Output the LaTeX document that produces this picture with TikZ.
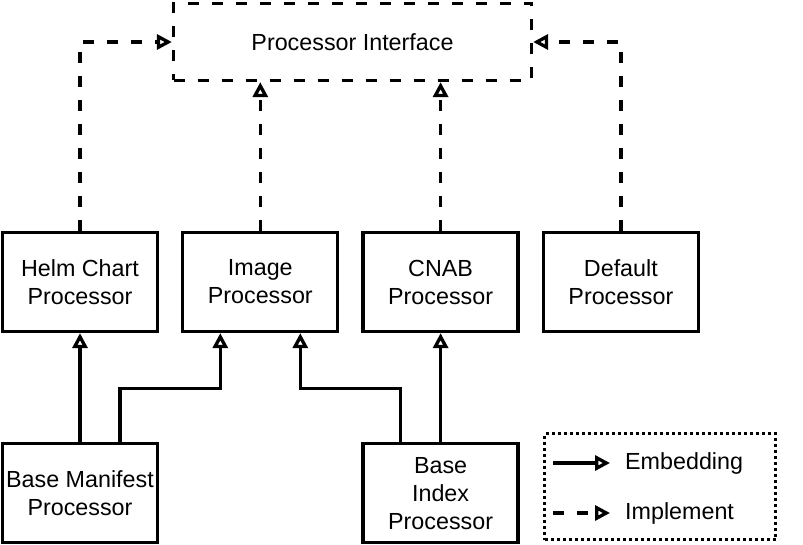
\documentclass[tikz,border=0pt]{standalone}
\usepackage{fontspec}
\setmainfont{Liberation Sans}
\usetikzlibrary{arrows.meta, positioning}

\begin{document}
\begin{tikzpicture}[
x=1pt, y=1pt,
font=\fontsize{23.3}{28}\selectfont,
node distance=109pt and 22pt,
box/.style={draw,
rectangle,
line width=3.3pt,
minimum width=155pt,
minimum height=99pt,
inner sep=0pt,
align=center},
embed/.style={-{Triangle[open, fill=white, length=15pt, width=15pt]}, line width=3.3pt},
impl/.style={embed, dash pattern=on 11pt off 13pt} ]

\useasboundingbox (0,0) rectangle (803,544);

\node[box, dash pattern=on 11pt off 13pt, minimum width=358pt, minimum height=77pt] (iface) at (352.5,502) {Processor Interface};
\node[box] (helm) at (80,262) {Helm Chart\\Processor};
\node[box, right=of helm] (image) {Image\\Processor};
\node[box, right=of image] (cnab) {CNAB\\Processor};
\node[box, right=of cnab] (default) {Default\\Processor};
\node[box, below=of helm] (manifest) {Base Manifest\\Processor};
\node[box, below=of cnab] (index) {Base\\Index\\Processor};

\draw[impl] (helm.north) |- (iface.west);
\draw[impl] (image.north) -- (image.north |- iface.south);
\draw[impl] (cnab.north) -- (cnab.north |- iface.south);
\draw[impl] (default.north) |- (iface.east);

\draw[embed] (manifest.north) -- (helm.south);
\draw[embed] ([xshift=40pt]manifest.north) -- ++(0,54) -| ([xshift=-40pt]image.south);
\draw[embed] ([xshift=-40pt]index.north) -- ++(0,54) -| ([xshift=40pt]image.south);
\draw[embed] (index.north) -- (cnab.south);

% legend
\node[draw, line width=3.3pt, dash pattern=on 3pt off 3pt, minimum width=231pt, minimum height=106pt] (legend) at (660,57.5) {};
\node[anchor=west, inner sep=0pt] (lblembed) at (625,81) {Embedding};
\node[anchor=west, inner sep=0pt] (lblimpl) at (625,31) {Implement};
\coordinate (embstart) at (553,81);
\coordinate (implstart) at (553,31);
\draw[embed] (embstart) -- ([xshift=-15pt]lblembed.west);
\draw[impl] (implstart) -- ([xshift=-15pt]lblimpl.west);

\end{tikzpicture}
\end{document}
